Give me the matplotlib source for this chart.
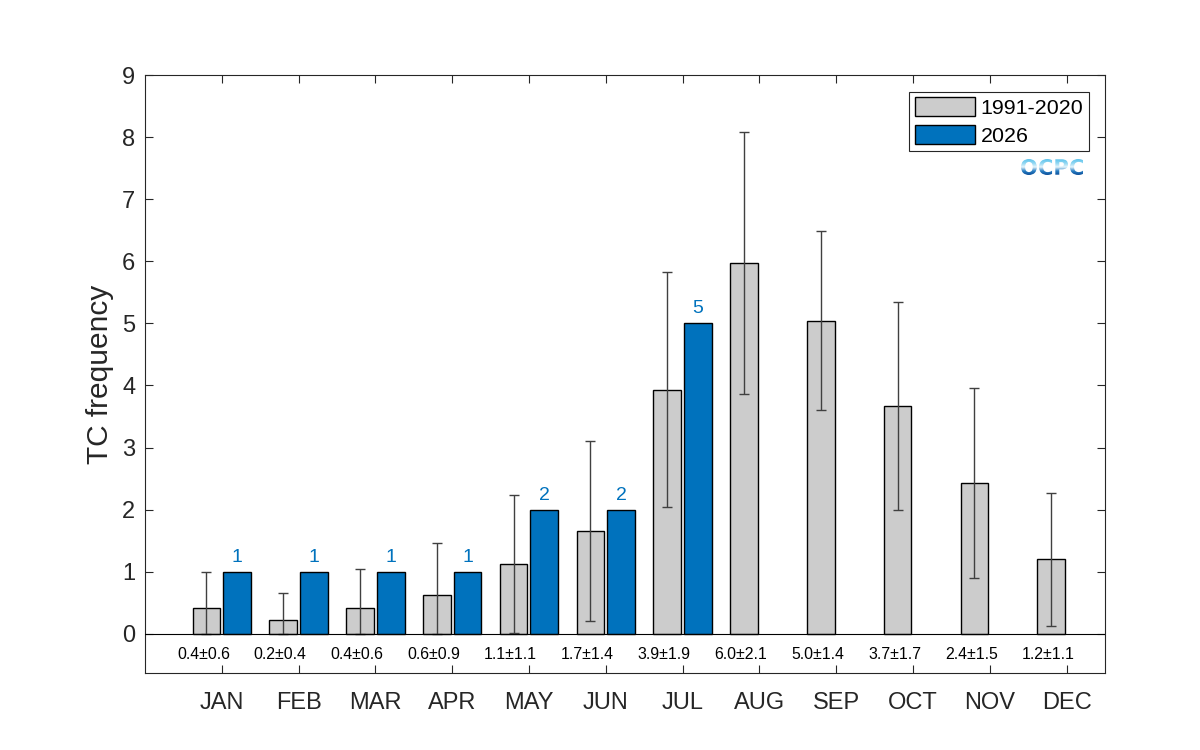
import numpy as np
import matplotlib.pyplot as plt
from matplotlib.textpath import TextPath
from matplotlib.patches import PathPatch
from matplotlib.font_manager import FontProperties
from matplotlib.colors import LinearSegmentedColormap

plt.rcParams['font.family'] = ['Liberation Sans', 'DejaVu Sans']

# Data
months = ['JAN', 'FEB', 'MAR', 'APR', 'MAY', 'JUN', 'JUL', 'AUG', 'SEP', 'OCT', 'NOV', 'DEC']
clim_mean = [0.42, 0.22, 0.42, 0.62, 1.13, 1.66, 3.93, 5.97, 5.04, 3.67, 2.43, 1.20]
clim_std = [0.58, 0.44, 0.62, 0.85, 1.11, 1.45, 1.89, 2.11, 1.44, 1.68, 1.53, 1.07]
clim_text = ['0.4±0.6', '0.2±0.4', '0.4±0.6', '0.6±0.9', '1.1±1.1', '1.7±1.4',
             '3.9±1.9', '6.0±2.1', '5.0±1.4', '3.7±1.7', '2.4±1.5', '1.2±1.1']
cur_counts = [1, 1, 1, 1, 2, 2, 5]
cur_label = '2026'
clim_label = '1991-2020'

x = np.arange(1, len(months) + 1)
xc = np.arange(1, len(cur_counts) + 1)
blue = '#0072bd'
dark = '#262626'

fig = plt.figure(figsize=(12, 7.5), dpi=100)
ax = fig.add_axes([0.1208, 0.1027, 0.80, 0.7973])

mean = np.array(clim_mean)
std = np.array(clim_std)
lower = np.minimum(std, mean)

ax.bar(x - 0.2, mean, width=0.36, color='#cccccc', edgecolor='black',
       linewidth=1, label=clim_label, zorder=2)
ax.bar(xc + 0.2, cur_counts, width=0.36, color=blue, edgecolor='black',
       linewidth=1, label=cur_label, zorder=2)
ax.errorbar(x - 0.2, mean, yerr=[lower, std], fmt='none', ecolor='#404040',
            elinewidth=1, capsize=3.6, capthick=1, zorder=3)

ax.axhline(0, color='black', linewidth=0.8, zorder=4)

# mean±std under each month, counts above the current-year bars
for xi, t in zip(x, clim_text):
    ax.text(xi - 0.24, -0.34, t, ha='center', va='center', fontsize=11.4, color='black')
for xi, c in zip(xc, cur_counts):
    ax.text(xi + 0.2, c + 0.16, str(c), ha='center', va='baseline', fontsize=14, color=blue)

ax.set_xlim(0, 12.5)
ax.set_ylim(-0.63, 9)
ax.set_xticks(x)
ax.set_xticklabels(months)
ax.set_yticks(range(0, 10))
ax.tick_params(axis='both', direction='in', length=6, width=0.8, colors=dark,
               labelsize=17, top=True, right=True)
ax.tick_params(axis='x', pad=13.5)
ax.tick_params(axis='y', pad=7)
for s in ax.spines.values():
    s.set_color(dark)
    s.set_linewidth(0.8)
ax.set_ylabel('TC frequency', fontsize=21.5, color=dark, labelpad=6)

leg = ax.legend(loc='upper right', bbox_to_anchor=(0.983, 0.972), fontsize=15.4,
                frameon=True, fancybox=False, edgecolor=dark, framealpha=1,
                handlelength=2.8, handleheight=0.95, handletextpad=0.28,
                labelspacing=0.35, borderpad=0.25, borderaxespad=0)
leg.get_frame().set_linewidth(0.8)

# OCPC logo: gradient-filled text
lax = fig.add_axes([1021 / 1200, (750 - 175) / 750, 62 / 1200, 16 / 750])
tp = TextPath((0, 0), 'OCPC', size=10, prop=FontProperties(family='DejaVu Sans', weight='bold'))
ext = tp.get_extents()
lax.set_xlim(ext.x0, ext.x1)
lax.set_ylim(ext.y0, ext.y1)
lax.axis('off')
cmap = LinearSegmentedColormap.from_list('ocpc', ['#0a4f9a', '#2a80c4', '#e6f6fc', '#8fd6f2', '#5cc3ec'])
grad = np.linspace(0, 1, 64).reshape(-1, 1)
im = lax.imshow(grad, cmap=cmap, origin='lower', aspect='auto',
                extent=[ext.x0, ext.x1, ext.y0, ext.y1])
patch = PathPatch(tp, transform=lax.transData, facecolor='none', edgecolor='none')
lax.add_patch(patch)
im.set_clip_path(patch)

fig.savefig('out.png', dpi=100)
